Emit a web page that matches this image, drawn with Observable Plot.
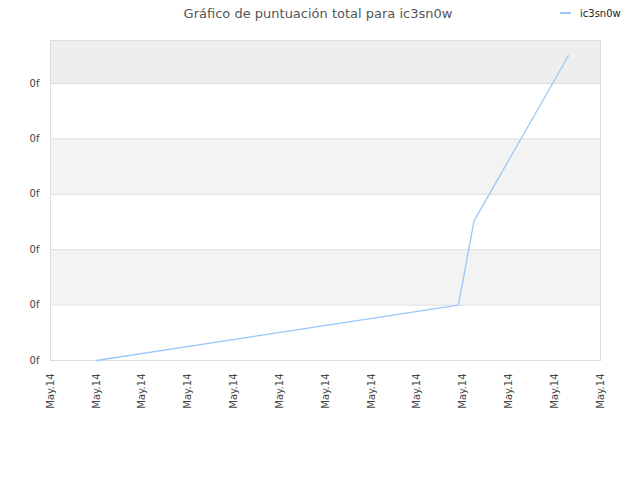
<!DOCTYPE html>
<html><head><meta charset="utf-8">
<script src="https://cdn.jsdelivr.net/npm/d3@7"></script>
<script src="https://cdn.jsdelivr.net/npm/@observablehq/plot@0.6"></script>
<style>
body{margin:0;background:#fff;font-family:"DejaVu Sans",sans-serif}
#wrap{position:relative;width:640px;height:480px}
#title{position:absolute;top:6px;left:0;width:636px;text-align:center;font-size:13px;color:#555;white-space:nowrap}
#legend{position:absolute;top:6px;left:560px;font-size:10px;color:#222;display:flex;align-items:center;height:14px}
#legend span.sw{display:inline-block;width:11px;height:2px;background:#9ac7f7;margin-right:9px}
#chart{position:absolute;top:0;left:0}
</style></head>
<body><div id="wrap"><div id="title"></div><div id="legend"><span class="sw"></span><span id="ltext"></span></div><div id="chart"></div></div>
<script>
const titleText = "Gráfico de puntuación total para ic3sn0w";
const seriesName = "ic3sn0w";
const xIndex = [1, 8.9, 9.24, 11.3];
const scores = [0, 1, 2.52, 5.5];
const xTicks = [0,1,2,3,4,5,6,7,8,9,10,11,12];
const xTickLabel = "May.14";
const yTicks = [0,1,2,3,4,5];
const yTickLabel = "0f";
const xDomain = [0, 12];
const yDomain = [0, 5.776];
const bandFills = ["#ffffff","#f3f3f3","#ffffff","#f3f3f3","#ffffff","#eeeeee"];

document.getElementById("title").textContent = titleText;
document.getElementById("ltext").textContent = seriesName;

const data = xIndex.map((x,i)=>({x, y:scores[i]}));
const bands = bandFills.map((f,i)=>({y1: yTicks[i], y2: i < yTicks.length-1 ? yTicks[i+1] : yDomain[1], f}));

const plot = Plot.plot({
  width: 640, height: 480,
  marginLeft: 50, marginRight: 40, marginTop: 40, marginBottom: 120,
  style: {fontFamily: "DejaVu Sans", fontSize: "10px", color: "#444", background: "transparent"},
  x: {domain: xDomain},
  y: {domain: yDomain},
  marks: [
    Plot.rect(bands, {x1: () => xDomain[0], x2: () => xDomain[1], y1: "y1", y2: "y2", fill: "f"}),
    Plot.ruleY(yTicks.slice(1), {stroke: "#dddddd"}),
    Plot.frame({stroke: "#dddddd"}),
    Plot.line(data, {x: "x", y: "y", stroke: "#9ac7f7", strokeWidth: 1.3}),
    Plot.axisY({ticks: yTicks, tickFormat: () => yTickLabel, tickSize: 0, tickPadding: 11, fill: "#444", label: null}),
    Plot.axisX({ticks: xTicks, tickFormat: () => xTickLabel, tickSize: 0, tickPadding: 13, tickRotate: -90, fill: "#444", label: null})
  ]
});
document.getElementById("chart").appendChild(plot);
</script></body></html>
